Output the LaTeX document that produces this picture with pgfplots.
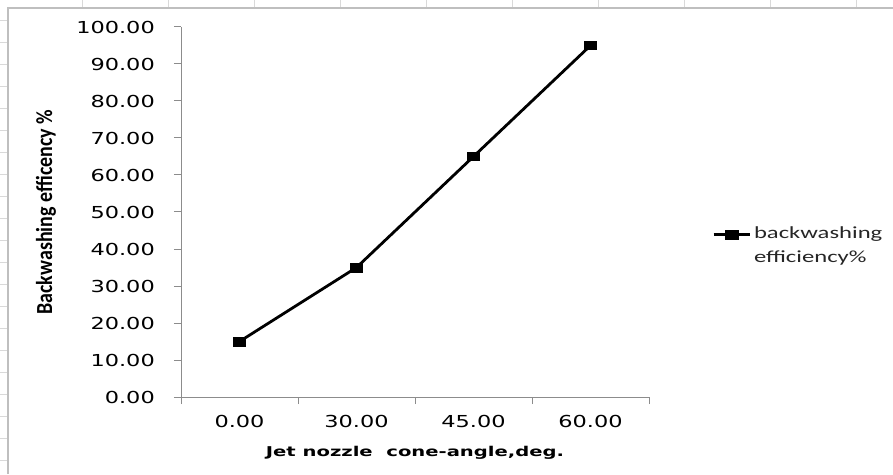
\documentclass[border=0pt]{standalone}
\usepackage{graphicx}
\usepackage{pgfplots}
\pgfplotsset{compat=1.18}
\usepackage{fontspec}
\setmainfont{DejaVu Sans}
\newfontfamily\carlito{Carlito}
\newcommand\sx[1]{\scalebox{1.36}[1]{#1}}
\newcommand\swide[1]{\scalebox{1.45}[1]{#1}}
\begin{document}
\begin{tikzpicture}
\path[use as bounding box] (0pt,0pt) rectangle (893pt,474pt);
\begin{scope}[x=1pt,y=1pt]
\fill[white] (0,0) rectangle (893,474);
\foreach \yy in {20,42,...,470} \draw[black!15, line width=0.8pt] (0,474-\yy) -- (8,474-\yy);
\foreach \xx in {82,168,...,880} \draw[black!15, line width=0.8pt] (\xx,466) -- (\xx,474);
\draw[black!25, line width=1.3pt] (8,0) -- (8,466) -- (893,466);
\end{scope}
\begin{axis}[
  at={(181pt,77pt)}, anchor=south west,
  scale only axis, width=468pt, height=370pt,
  xmin=-0.5, xmax=3.5, ymin=0, ymax=100,
  clip=false,
  axis x line=bottom, axis y line=left,
  axis line style={-, draw=black!45, line width=1pt},
  tick align=outside, major tick length=7pt,
  tick style={draw=black!45, line width=1pt},
  xtick={-0.5,0.5,1.5,2.5,3.5}, xticklabels={,,,,,},
  extra x ticks={0,1,2,3},
  extra x tick labels={\sx{0.00},\sx{30.00},\sx{45.00},\sx{60.00}},
  extra x tick style={major tick length=0pt, tick style={draw=none}},
  ytick={0,10,...,100},
  yticklabels={\sx{0.00},\sx{10.00},\sx{20.00},\sx{30.00},\sx{40.00},\sx{50.00},\sx{60.00},\sx{70.00},\sx{80.00},\sx{90.00},\sx{100.00}},
  tick label style={font=\fontsize{16.5}{16.5}\selectfont, text=black},
  yticklabel style={anchor=east, inner sep=0pt, xshift=-19pt},
  xticklabel style={anchor=north, inner sep=0pt, yshift=-18pt},
  xlabel={\swide{\bfseries Jet nozzle\ \ cone-angle,deg.}},
  xlabel style={font=\fontsize{13.5}{13.5}\selectfont, text=black, at={(axis description cs:0.5,-0.1514)}, anchor=center, inner sep=0pt},
  ylabel={\scalebox{1}[1.15]{\carlito\bfseries Backwashing efficency \%}},
  ylabel style={font=\fontsize{20}{20}\selectfont, text=black, at={(axis description cs:-0.2885,0.4995)}, anchor=center, inner sep=0pt},
  legend style={at={(axis description cs:1.1346,0.406)}, anchor=west, draw=none, fill=none,
    inner sep=0pt, row sep=8pt, column sep=3pt,
    font=\carlito\fontsize{17}{17}\selectfont,
    nodes={inner sep=0pt, text height=12pt, text depth=4pt, text=black!85}},
  legend cell align=left,
  legend image code/.code={\draw[#1, mark repeat=2, mark phase=2] plot coordinates {(0pt,0pt) (18pt,0pt) (36pt,0pt)};},
]
\addplot[black, line width=2.8pt, mark=square*, mark size=4.3pt,
  mark options={xscale=1.45, solid, line width=0.6pt}]
  coordinates {(0,15) (1,35) (2,65) (3,95)};
\addlegendentry{\swide{backwashing}}
\addlegendimage{empty legend}
\addlegendentry{\swide{efficiency\%}}
\end{axis}
\end{tikzpicture}
\end{document}
